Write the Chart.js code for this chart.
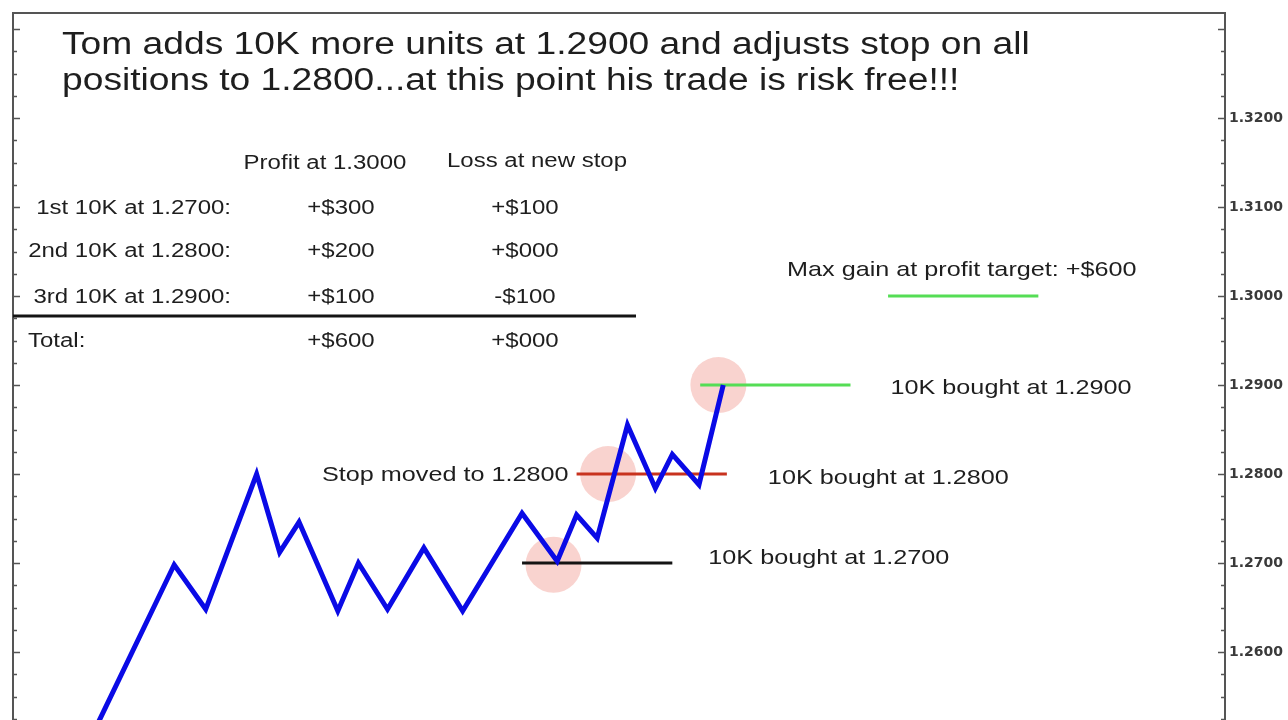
<!DOCTYPE html>
<html>
<head>
<meta charset="utf-8">
<style>
  body { margin: 0; background: #fff; }
  canvas { display: block; }
</style>
<script src="https://cdn.jsdelivr.net/npm/chart.js@4/dist/chart.umd.min.js"></script>
</head>
<body>
<canvas id="chart" width="1288" height="720"></canvas>
<script>
// Price path (x in bars, y in price)
const priceX = [6.3, 13.3, 15.9, 20.1, 22.0, 23.6, 26.8, 28.5, 30.9, 33.9, 37.1, 42.0, 44.9, 46.5, 48.2, 50.7, 53.0, 54.4, 56.6, 58.6];
const priceY = [1.2500, 1.2698, 1.2648, 1.2800, 1.2712, 1.2746, 1.2646, 1.2700, 1.2648, 1.2717, 1.2646, 1.2756, 1.2702, 1.2754, 1.2728, 1.2855, 1.2784, 1.2822, 1.2788, 1.2900];

// Horizontal levels: buy at 1.27, stop at 1.28, buy at 1.29, target 1.30
const levelValues = [1.2700, 1.2800, 1.2900, 1.3000];
const levelFrom = [42.0, 46.5, 56.7, 72.2];
const levelTo = [54.4, 58.9, 69.1, 84.6];

// Highlighted entries
const entryX = [44.6, 49.1, 58.2];
const entryY = [1.2698, 1.2800, 1.2900];

// Axis ticks
const yTicks = [1.26, 1.27, 1.28, 1.29, 1.30, 1.31, 1.32];

// Texts
const titleLines = [
    'Tom adds 10K more units at 1.2900 and adjusts stop on all',
    'positions to 1.2800...at this point his trade is risk free!!!'
];
const tableHeaders = ['Profit at 1.3000', 'Loss at new stop'];
const rowLabels = ['1st 10K at 1.2700:', '2nd 10K at 1.2800:', '3rd 10K at 1.2900:', 'Total:'];
const profitCol = ['+$300', '+$200', '+$100', '+$600'];
const lossCol = ['+$100', '+$000', '-$100', '+$000'];

const levelColors = ['#141414', '#c8321e', '#55dd55', '#55dd55'];
const FONT = "'Liberation Sans', Arial, sans-serif";
const SX = 1.2; // horizontal stretch of the original picture

function wideText(ctx, str, x, y, size, align) {
    ctx.save();
    ctx.translate(x, y);
    ctx.scale(SX, 1);
    ctx.font = size + 'px ' + FONT;
    ctx.textAlign = align || 'left';
    ctx.textBaseline = 'alphabetic';
    ctx.fillStyle = '#1e1e1e';
    ctx.fillText(str, 0, 0);
    ctx.restore();
}

const datasets = [];

// Blue price line
datasets.push({
    data: priceX.map((x, i) => ({ x: x, y: priceY[i] })),
    borderColor: '#0a0ae6',
    borderWidth: 5,
    pointRadius: 0,
    tension: 0,
    order: 1
});

// Level segments
levelValues.forEach((v, i) => {
    datasets.push({
        data: [{ x: levelFrom[i], y: v }, { x: levelTo[i], y: v }],
        borderColor: levelColors[i],
        borderWidth: 3,
        pointRadius: 0,
        order: 2
    });
});

// Pink circles at entries
datasets.push({
    data: entryX.map((x, i) => ({ x: x, y: entryY[i] })),
    showLine: false,
    pointRadius: 28,
    pointBorderWidth: 0,
    pointBackgroundColor: 'rgba(240, 140, 130, 0.38)',
    order: 3
});

const overlay = {
    id: 'overlay',
    afterDraw(chart) {
        const ctx = chart.ctx;
        const area = chart.chartArea;
        const xs = chart.scales.x;
        const ys = chart.scales.y;

        // frame: left and top borders
        ctx.save();
        ctx.strokeStyle = '#555';
        ctx.lineWidth = 2;
        ctx.beginPath();
        ctx.moveTo(area.left, area.top);
        ctx.lineTo(area.left, area.bottom);
        ctx.moveTo(area.left - 1, area.top);
        ctx.lineTo(area.right, area.top);
        ctx.stroke();

        // inward ticks on both sides, minor every quarter step
        ctx.lineWidth = 1.5;
        for (let v = 1.2525; v < 1.332; v += 0.0025) {
            const y = Math.round(ys.getPixelForValue(v)) + 0.5;
            if (y < area.top + 3) continue;
            const major = Math.abs(v * 100 - Math.round(v * 100)) < 0.01;
            const len = major ? 7 : 4;
            ctx.beginPath();
            ctx.moveTo(area.left, y);
            ctx.lineTo(area.left + len, y);
            ctx.moveTo(area.right, y);
            ctx.lineTo(area.right - len, y);
            ctx.stroke();
        }
        ctx.restore();

        // title
        wideText(ctx, titleLines[0], 62, 54, 31);
        wideText(ctx, titleLines[1], 62, 90, 31);

        // table
        wideText(ctx, tableHeaders[0], 325, 169, 20, 'center');
        wideText(ctx, tableHeaders[1], 537, 167, 20, 'center');
        const rowY = [214, 257, 303, 347];
        rowLabels.forEach((lbl, i) => {
            if (i < 3) wideText(ctx, lbl, 231, rowY[i], 20, 'right');
            else wideText(ctx, lbl, 28, rowY[i], 20, 'left');
            wideText(ctx, profitCol[i], 341, rowY[i], 20, 'center');
            wideText(ctx, lossCol[i], 525, rowY[i], 20, 'center');
        });
        ctx.save();
        ctx.strokeStyle = '#141414';
        ctx.lineWidth = 3;
        ctx.beginPath();
        ctx.moveTo(area.left, 316);
        ctx.lineTo(636, 316);
        ctx.stroke();
        ctx.restore();

        // level annotations anchored to their segments
        const segY = levelValues.map(v => ys.getPixelForValue(v));
        const segL = levelFrom.map(x => xs.getPixelForValue(x));
        const segR = levelTo.map(x => xs.getPixelForValue(x));
        wideText(ctx, '10K bought at 1.2700', segR[0] + 36, segY[0] + 1, 21);
        wideText(ctx, 'Stop moved to 1.2800', segL[1] - 8, segY[1] + 7, 21, 'right');
        wideText(ctx, '10K bought at 1.2800', segR[1] + 41, segY[1] + 10, 21);
        wideText(ctx, '10K bought at 1.2900', segR[2] + 40, segY[2] + 9, 21);
        wideText(ctx, 'Max gain at profit target: +$600', segL[3] - 101, segY[3] - 20, 21);
    }
};

new Chart(document.getElementById('chart'), {
    type: 'line',
    data: { datasets: datasets },
    options: {
        responsive: false,
        animation: false,
        layout: { autoPadding: false, padding: { left: 13, top: 13, right: 0, bottom: 0 } },
        plugins: {
            legend: { display: false },
            tooltip: { enabled: false }
        },
        scales: {
            x: {
                type: 'linear',
                min: 0,
                max: 100,
                display: false
            },
            y: {
                type: 'linear',
                position: 'right',
                min: 1.25236,
                max: 1.3318,
                afterBuildTicks: scale => {
                    scale.ticks = yTicks.map(v => ({ value: v }));
                },
                afterFit: scale => {
                    scale.width = 63;
                    scale.paddingTop = 0;
                    scale.paddingBottom = 0;
                },
                grid: { display: false, drawTicks: false },
                border: { display: true, color: '#555', width: 2 },
                ticks: {
                    padding: 4,
                    color: '#3a3a3a',
                    font: { family: 'DejaVu Sans', size: 14, weight: 'bold' },
                    callback: v => v.toFixed(4)
                }
            }
        }
    },
    plugins: [overlay]
});
</script>
</body>
</html>
